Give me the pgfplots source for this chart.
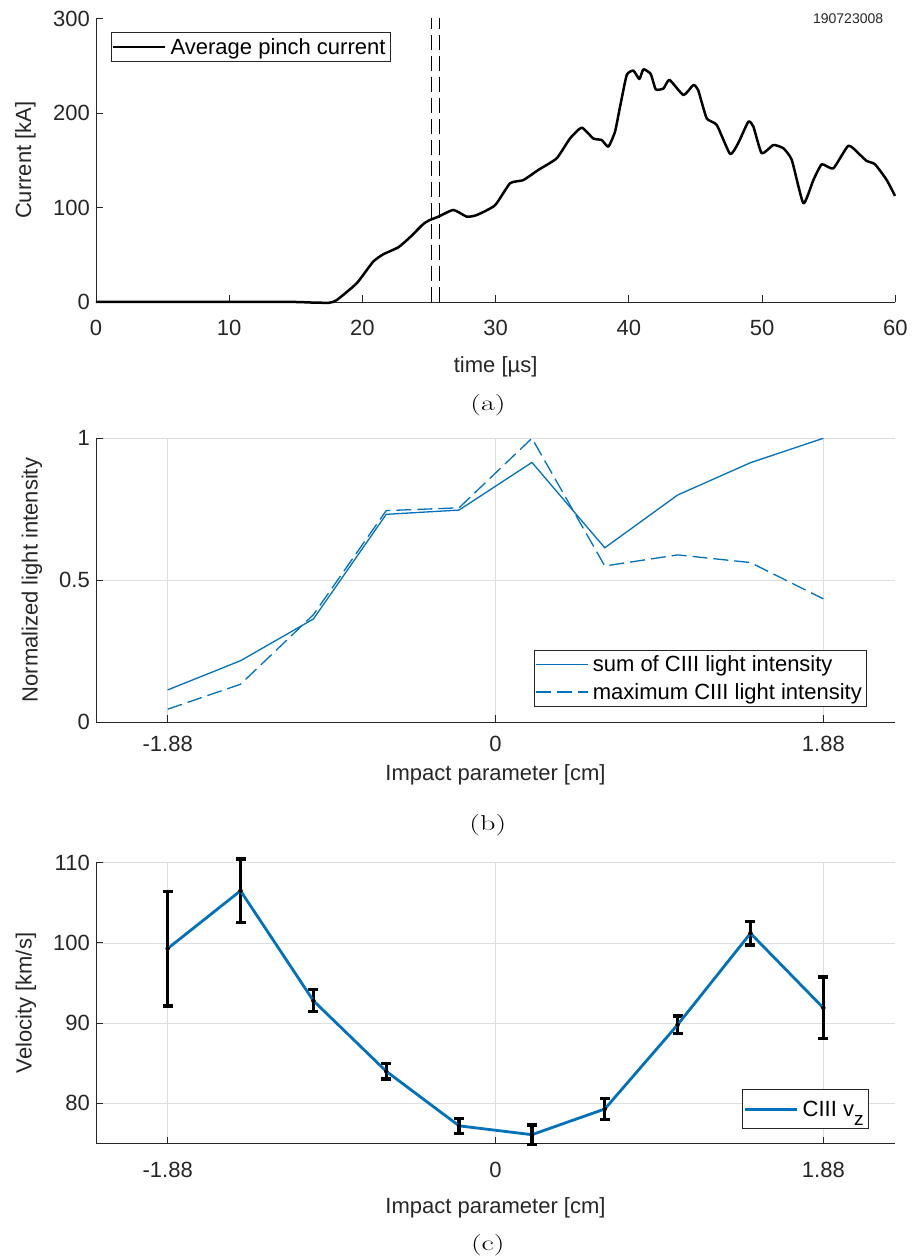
\documentclass[border=0pt]{standalone}
\usepackage{fontspec}
\usepackage{pgfplots}
\pgfplotsset{compat=1.18}
\usepackage{pgfplotstable}
\newfontfamily\sansf{Liberation Sans}
\definecolor{mblue}{rgb}{0,0.447,0.741}
\definecolor{axgray}{rgb}{0.15,0.15,0.15}
\definecolor{gridgray}{rgb}{0.87,0.87,0.87}

\pgfplotstableread{
x y
0 0
5 0
10 0
15 0
16 -0.5
17.5 -0.8
18.07 2
19.57 19.8
20.8 42.6
21.57 50.5
22.7 57.9
23.57 68.5
24.57 82.5
25.07 86.8
25.7 90.3
26.83 97.4
27.83 90.3
28.58 92
29.95 102.3
31.08 125.6
32.08 129
33.2 139.7
34.58 152
35.58 173
36.46 184.5
37.33 173
37.96 171.4
38.46 164.3
38.96 180.2
39.34 206.7
39.84 240.2
40.34 244.8
40.79 236
41.09 246.2
41.64 241.3
42.02 225
42.6 226
43.05 235
44.1 219
44.84 229.6
45.2 224.3
45.84 194.4
46.6 187.3
47.6 156.6
48.2 167.9
48.97 190.8
49.35 185.5
49.97 157.4
50.85 166.1
51.6 162.6
52.23 150.3
53.1 104.4
53.85 129
54.48 145.7
55.35 141.4
56.48 165.4
57.36 155.6
57.86 149.2
58.48 145.7
59.36 129
59.98 112.2
}\currenttable

\pgfplotstableread{
x sum max
-1.88 0.113 0.045
-1.4622 0.216 0.133
-1.0444 0.363 0.378
-0.6267 0.732 0.745
-0.2089 0.747 0.755
0.2089 0.915 1.0
0.6267 0.614 0.550
1.0444 0.800 0.589
1.4622 0.914 0.562
1.88 1.0 0.434
}\lighttable

\pgfplotstableread{
x y e
-1.88 99.3 7.15
-1.4622 106.5 3.95
-1.0444 92.8 1.35
-0.6267 84.0 0.95
-0.2089 77.2 0.95
0.2089 76.1 1.2
0.6267 79.3 1.3
1.0444 89.8 1.1
1.4622 101.2 1.45
1.88 91.9 3.85
}\veltable

\pgfplotsset{
 mystyle/.style={
  scale only axis,
  axis x line*=bottom, axis y line*=left,
  axis line style={draw=axgray, line width=0.9pt, -},
  tick style={draw=axgray, line width=0.9pt},
  major tick length=7pt,
  tick align=inside,
  tick label style={font=\sansf\fontsize{22}{26}\selectfont, text=axgray},
  yticklabel style={anchor=east, xshift=-2.7pt},
  /pgf/number format/assume math mode=true,
  label style={font=\sansf\fontsize{22}{26}\selectfont, text=axgray},
  ylabel style={anchor=center},
  xlabel style={anchor=center},
  legend style={font=\sansf\fontsize{22}{26}\selectfont, draw=axgray, line width=0.9pt, inner sep=1pt, nodes={inner sep=4pt, inner ysep=5pt}, text=black},
  legend cell align=left,
  legend image code/.code={\draw[##1] (0pt,0pt) -- (52pt,0pt);},
  clip=false,
 }
}
\newcommand\capt[1]{\fontsize{21.5}{24}\selectfont\scalebox{1.4}[1]{#1}}

\begin{document}
\begin{tikzpicture}
\useasboundingbox (0,0) rectangle (912pt,1259pt);

% (a)
\begin{axis}[mystyle, width=799.3pt, height=283.5pt, at={(96pt,957pt)}, anchor=south west,
  xmin=0, xmax=60, ymin=0, ymax=300,
  xtick={0,10,20,30,40,50,60}, ytick={0,100,200,300},
  xticklabel style={anchor=center, yshift=-26pt},
  xlabel={time [µs]}, ylabel={Current [kA]},
  xlabel style={at={(axis description cs:0.5,-0.2275)}},
  ylabel style={at={(axis description cs:-0.0882,0.5)}},
  legend style={at={(0.0184,0.9534)}, anchor=north west}]
\addplot[black, line width=2.5pt, line join=round, smooth, tension=0.3] table[x=x,y=y]{\currenttable};
\addlegendentry{Average pinch current}
\addplot[black, line width=1pt, dash pattern=on 15pt off 6pt, forget plot] coordinates {(25.15,0) (25.15,300)};
\addplot[black, line width=1pt, dash pattern=on 15pt off 6pt, forget plot] coordinates {(25.75,0) (25.75,300)};
\node[font=\sansf\fontsize{14}{16}\selectfont, text=axgray] at (axis cs:56.46,300.2) {190723008};
\node at (axis description cs:0.4904,-0.3633) {\capt{(a)}};
\end{axis}

% (b)
\begin{axis}[mystyle, width=799pt, height=283.7pt, at={(96pt,537pt)}, anchor=south west,
  xmin=-2.291, xmax=2.291, ymin=0, ymax=1,
  xtick={-1.88,0,1.88}, xticklabels={-1.88,0,1.88}, ytick={0,0.5,1},
  xticklabel style={anchor=center, yshift=-22pt},
  grid=major, major grid style={gridgray, line width=0.8pt},
  xlabel={Impact parameter [cm]}, ylabel={Normalized light intensity},
  xlabel style={at={(axis description cs:0.5,-0.1868)}},
  ylabel style={at={(axis description cs:-0.0801,0.5)}},
  legend style={at={(0.9653,0.0518)}, anchor=south east}]
\addplot[mblue, line width=1.3pt] table[x=x,y=sum]{\lighttable};
\addlegendentry{sum of CIII light intensity}
\addplot[mblue, line width=1.3pt, dash pattern=on 15pt off 6pt] table[x=x,y=max]{\lighttable};
\addlegendentry{maximum CIII light intensity}
\node at (axis description cs:0.4904,-0.3631) {\capt{(b)}};
\end{axis}

% (c)
\begin{axis}[mystyle, width=799pt, height=280.8pt, at={(96pt,115.5pt)}, anchor=south west,
  xmin=-2.291, xmax=2.291, ymin=75, ymax=110,
  xtick={-1.88,0,1.88}, xticklabels={-1.88,0,1.88}, ytick={80,90,100,110},
  xticklabel style={anchor=center, yshift=-26.5pt},
  grid=major, major grid style={gridgray, line width=0.8pt},
  xlabel={Impact parameter [cm]}, ylabel={Velocity [km/s]},
  xlabel style={at={(axis description cs:0.5,-0.2297)}},
  ylabel style={at={(axis description cs:-0.0876,0.5)}},
  legend style={at={(0.9675,0.0516)}, anchor=south east, inner ysep=6pt}]
\addplot[black, only marks, mark=none, forget plot,
  error bars/.cd, y dir=both, y explicit,
  error bar style={draw=black, line width=3.2pt},
  error mark options={draw=black, rotate=90, mark size=5pt, line width=3.2pt}]
  table[x=x, y=y, y error=e]{\veltable};
\addplot[mblue, line width=2.8pt, line join=round] table[x=x,y=y]{\veltable};
\addlegendentry{CIII v\raisebox{-9pt}{\fontsize{19}{19}\selectfont z}}
\node at (axis description cs:0.4904,-0.3615) {\capt{(c)}};
\end{axis}
\end{tikzpicture}
\end{document}
